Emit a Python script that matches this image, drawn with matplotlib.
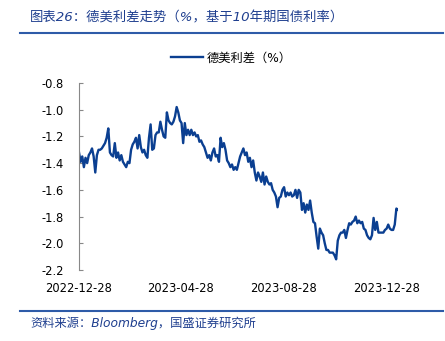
import pandas as pd
import matplotlib.pyplot as plt
import matplotlib.dates as mdates

plt.rcParams['font.family'] = ['DejaVu Sans', 'Noto Sans CJK SC']

START_DATE = '2022-12-28'
END_DATE = '2024-01-11'
TICK_DATES = ['2022-12-28', '2023-04-28', '2023-08-28', '2023-12-28']

# Spread values (%), left to right
spread_part1 = [
    -1.32, -1.39, -1.35, -1.43, -1.36, -1.40, -1.34, -1.32, -1.29, -1.35,
    -1.47, -1.34, -1.30, -1.30, -1.29, -1.27, -1.25, -1.21, -1.14, -1.32,
    -1.34, -1.35, -1.25, -1.36, -1.32, -1.38, -1.34, -1.39, -1.41, -1.43,
    -1.39, -1.40, -1.30, -1.26, -1.24, -1.21, -1.29, -1.19, -1.28, -1.32,
    -1.30, -1.34, -1.36, -1.21, -1.11, -1.30, -1.29, -1.19, -1.17, -1.17,
    -1.09, -1.15, -1.20, -1.21, -1.02, -1.08, -1.10, -1.11, -1.09, -1.05,
    -0.98, -1.02, -1.08, -1.10, -1.25,
]
spread_part2 = [
    -1.10, -1.19, -1.15, -1.19, -1.15, -1.19, -1.17, -1.20, -1.19, -1.24,
    -1.23, -1.26, -1.28, -1.32, -1.36, -1.34, -1.38, -1.32, -1.29, -1.35,
    -1.34, -1.39, -1.21, -1.28, -1.25, -1.30, -1.38, -1.40, -1.43, -1.41,
    -1.45, -1.43, -1.45, -1.40, -1.35, -1.32, -1.29, -1.34, -1.32, -1.39,
    -1.36, -1.43, -1.38, -1.47, -1.53, -1.47, -1.50, -1.54, -1.47, -1.56,
    -1.50, -1.54, -1.56, -1.55, -1.60,
]
spread_part3 = [
    -1.62, -1.65, -1.73, -1.66, -1.65, -1.60, -1.58, -1.65, -1.62, -1.64,
    -1.62, -1.65, -1.64, -1.60, -1.66, -1.60, -1.62, -1.75, -1.70, -1.77,
    -1.71, -1.75, -1.68, -1.77, -1.84, -1.85, -1.95, -2.04, -1.89, -1.92,
    -1.94, -2.00, -2.05, -2.05, -2.07, -2.07, -2.07, -2.09, -2.12, -1.98,
    -1.94, -1.92, -1.92, -1.90, -1.96, -1.90, -1.85, -1.86, -1.84, -1.83,
    -1.80, -1.85, -1.83, -1.85, -1.84, -1.89, -1.90, -1.94, -1.96, -1.97,
    -1.94, -1.81, -1.90, -1.84, -1.92, -1.92, -1.92, -1.92, -1.90, -1.89,
    -1.86, -1.89, -1.90, -1.90, -1.86, -1.74, -1.75,
]
spread = spread_part1 + spread_part2 + spread_part3
dates = pd.date_range(START_DATE, END_DATE, periods=len(spread))

Y_TICKS = [-0.8, -1.0, -1.2, -1.4, -1.6, -1.8, -2.0, -2.2]

LINE_COLOR = '#0b3f91'
BLUE_TEXT = '#1f3f8f'
RULE_COLOR = '#2e5ba8'

fig = plt.figure(figsize=(4.45, 3.41), dpi=100)
ax = fig.add_axes([79 / 445, 1 - 270 / 341, (398 - 79) / 445, (270 - 83) / 341])

ax.plot(dates, spread, color=LINE_COLOR, linewidth=1.7, label='德美利差（%）')

ax.set_ylim(-2.2, -0.8)
ax.set_yticks(Y_TICKS)
ax.set_yticklabels(['%.1f' % v for v in Y_TICKS])
ax.set_xlim(pd.Timestamp(START_DATE), pd.Timestamp(END_DATE))
ax.set_xticks(pd.to_datetime(TICK_DATES))
ax.xaxis.set_major_formatter(mdates.DateFormatter('%Y-%m-%d'))

for side in ['top', 'right', 'bottom']:
    ax.spines[side].set_visible(False)
ax.spines['left'].set_color('#888888')
ax.spines['left'].set_linewidth(0.8)
ax.tick_params(axis='y', direction='in', length=3, color='#888888',
               labelsize=8.3, pad=11)
ax.tick_params(axis='x', length=0, labelsize=8.3, pad=9)

fig.legend(loc='center', bbox_to_anchor=(231 / 445, 1 - 58 / 341),
           frameon=False, fontsize=8.8, handlelength=2.6, handletextpad=0.3)

# Title, rules and source note
fig.text(30 / 445, 1 - 18 / 341, '图表26：德美利差走势（%，基于10年期国债利率）',
         color=BLUE_TEXT, fontsize=9.6, style='italic', va='center')
fig.add_artist(plt.Line2D([20 / 445, 443 / 445], [1 - 33 / 341] * 2,
                          color=RULE_COLOR, linewidth=1.5))
fig.add_artist(plt.Line2D([20 / 445, 443 / 445], [1 - 311 / 341] * 2,
                          color=RULE_COLOR, linewidth=1.5))
fig.text(30 / 445, 1 - 323 / 341, '资料来源：Bloomberg，国盛证券研究所',
         color=BLUE_TEXT, fontsize=8.8, style='italic', va='center')

fig.savefig('out.png', dpi=100)
